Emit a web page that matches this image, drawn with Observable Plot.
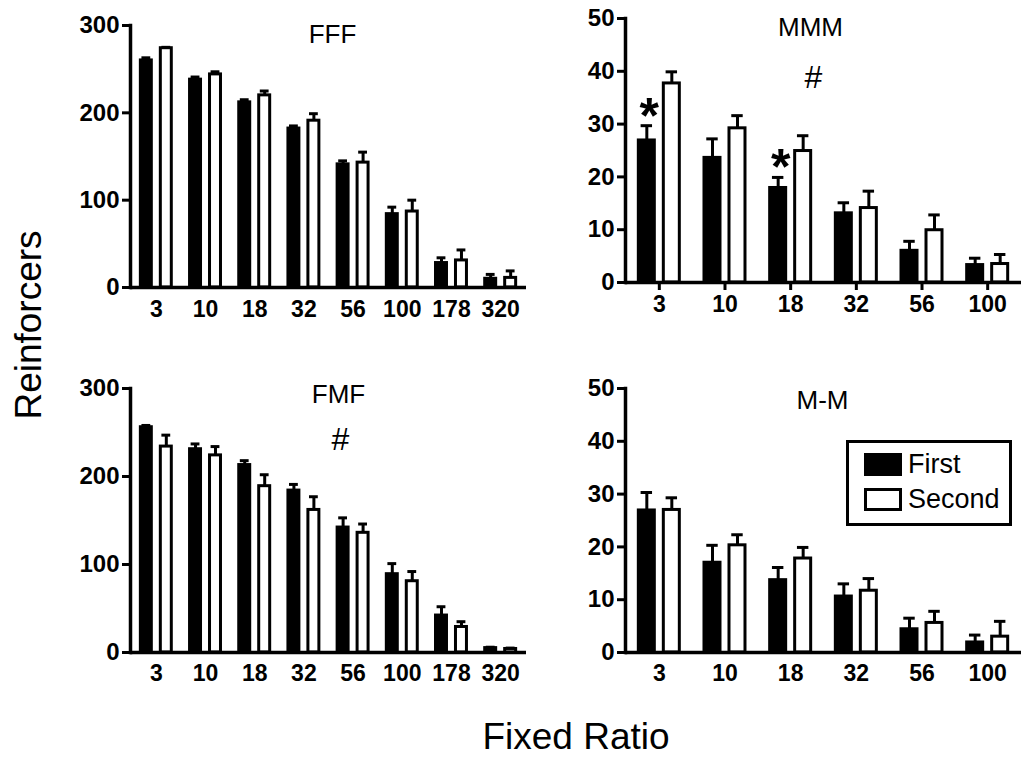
<!DOCTYPE html>
<html>
<head>
<meta charset="utf-8">
<script src="https://cdn.jsdelivr.net/npm/d3@7"></script>
<script src="https://cdn.jsdelivr.net/npm/@observablehq/plot@0.6"></script>
<style>
  html, body { margin: 0; padding: 0; background: #fff; }
  #root { position: relative; width: 1023px; height: 760px; font-family: "Liberation Sans", Arial, sans-serif; color: #000; overflow: hidden; }
  .panel { position: absolute; }
  .ylab { position: absolute; left: 29px; top: 325px; transform: translate(-50%, -50%) rotate(-90deg); font-size: 37px; white-space: nowrap; }
  .xlab { position: absolute; left: 576px; top: 718px; transform: translateX(-50%); font-size: 37px; white-space: nowrap; line-height: 37px; }
  .legend { position: absolute; left: 846px; top: 440px; width: 160px; height: 80px; border: 3px solid #000; box-sizing: content-box; }
  .legend .row { position: absolute; left: 15px; display: flex; align-items: center; font-size: 27px; line-height: 30px; }
  .legend .sw { width: 32px; height: 17px; border: 3px solid #000; margin-right: 6px; }
</style>
</head>
<body>
<div id="root">
  <div class="ylab">Reinforcers</div>
  <div class="xlab">Fixed Ratio</div>
</div>
<script>
// ---- Data ----
const ratiosLong = ["3", "10", "18", "32", "56", "100", "178", "320"];
const ratiosShort = ["3", "10", "18", "32", "56", "100"];
const series = ["First", "Second"];

// FFF
const fffFirst = [260, 238, 212, 182, 141, 84, 28, 10];
const fffFirstErr = [3, 3, 3, 3, 4, 8, 6, 5];
const fffSecond = [274, 244, 220, 191, 143, 87, 31, 11];
const fffSecondErr = [1, 3, 5, 8, 12, 13, 12, 8];

// MMM
const mmmFirst = [26.9, 23.6, 17.9, 13.1, 6.0, 3.3];
const mmmFirstErr = [2.8, 3.6, 2.0, 2.0, 1.8, 1.3];
const mmmSecond = [37.7, 29.2, 24.9, 14.1, 9.9, 3.5];
const mmmSecondErr = [2.2, 2.4, 2.9, 3.2, 2.9, 1.8];

// FMF
const fmfFirst = [256, 231, 213, 184, 142, 89, 42, 5];
const fmfFirstErr = [2, 6, 5, 7, 11, 12, 10, 1];
const fmfSecond = [234, 224, 189, 162, 136, 81, 29, 4];
const fmfSecondErr = [13, 10, 13, 15, 10, 11, 6, 1];

// M-M
const mmFirst = [26.9, 17.0, 13.7, 10.6, 4.4, 1.9];
const mmFirstErr = [3.4, 3.3, 2.4, 2.4, 2.1, 1.4];
const mmSecond = [27.0, 20.3, 17.8, 11.7, 5.6, 3.0];
const mmSecondErr = [2.3, 2.0, 2.1, 2.3, 2.2, 2.9];

const yTicksBig = [0, 100, 200, 300];
const yTicksSmall = [0, 10, 20, 30, 40, 50];

// Annotations
const mmmStars = [{fr: "3", series: "First"}, {fr: "18", series: "First"}];
const mmmHash = ["#"];
const fmfHash = ["#"];

// ---- Build ----
function rows(cats, first, firstErr, second, secondErr) {
  return cats.map((c, i) => ({
    fr: c,
    first: first[i], firstUp: first[i] + firstErr[i],
    second: second[i], secondUp: second[i] + secondErr[i]
  }));
}

function panel(cfg) {
  const {cats, data, yMax, yTicks, width, height, ml, mr, mt, mb, pi, po,
         xTicks, tickPad, title, titleDx, titleDy, extra} = cfg;
  const W = width - ml - mr;
  const n = cats.length;
  const step = W / (n - pi + 2 * po);
  const bw = step * (1 - pi);
  const half = bw / 2;
  const sw = 3;
  const gapIn = 3 + sw / 2;
  const edge = sw / 2;
  const bc = (edge + (half - gapIn)) / 2;
  const wc = ((half + gapIn) + (bw - edge)) / 2;
  const cap = bw * 0.13;
  const marks = [
    Plot.ruleX(data, {x: "fr", y1: "first", y2: "firstUp", dx: bc - half, stroke: "#000", strokeWidth: 3}),
    Plot.ruleX(data, {x: "fr", y1: "second", y2: "secondUp", dx: wc - half, stroke: "#000", strokeWidth: 3}),
    Plot.tickY(data, {x: "fr", y: "firstUp", insetLeft: bc - cap, insetRight: bw - bc - cap, stroke: "#000", strokeWidth: 3}),
    Plot.tickY(data, {x: "fr", y: "secondUp", insetLeft: wc - cap, insetRight: bw - wc - cap, stroke: "#000", strokeWidth: 3}),
    Plot.barY(data, {x: "fr", y: "first", fill: "#000", stroke: "#000", strokeWidth: sw, insetLeft: edge, insetRight: half + gapIn}),
    Plot.barY(data, {x: "fr", y: "second", fill: "#fff", stroke: "#000", strokeWidth: sw, insetLeft: half + gapIn, insetRight: edge}),
    Plot.axisY({ticks: yTicks, tickSize: 8, tickPadding: 3, strokeWidth: 3, fontSize: 24, fontWeight: "bold", label: null}),
    Plot.axisX({tickSize: xTicks ? 8 : 0, tickPadding: tickPad, strokeWidth: 3, fontSize: 23, fontWeight: "bold", label: null}),
    Plot.frame({anchor: "left", stroke: "#000", strokeWidth: 3.5}),
    Plot.ruleY([0], {stroke: "#000", strokeWidth: 3.5}),
    Plot.text([title], {frameAnchor: "top", dx: titleDx, dy: titleDy, lineAnchor: "middle", fontSize: 26, fontWeight: "normal", fill: "#000"}),
    ...(extra ? extra(data) : [])
  ];
  return Plot.plot({
    width, height,
    marginLeft: ml, marginRight: mr, marginTop: mt, marginBottom: mb,
    style: {fontFamily: "'Liberation Sans', Arial, sans-serif", color: "#000", background: "transparent", overflow: "visible"},
    x: {type: "band", domain: cats, paddingInner: pi, paddingOuter: po, align: 0.5, round: false, axis: null},
    y: {domain: [0, yMax], axis: null},
    marks
  });
}

const root = document.getElementById("root");
function place(el, left, top) {
  el.classList.add("panel");
  el.style.left = left + "px";
  el.style.top = top + "px";
  root.appendChild(el);
}

const fff = panel({
  cats: ratiosLong, data: rows(ratiosLong, fffFirst, fffFirstErr, fffSecond, fffSecondErr),
  yMax: 300, yTicks: yTicksBig, width: 540, height: 330, ml: 130, mr: 14, mt: 25, mb: 43,
  pi: 0.31, po: 0.18, xTicks: false, tickPad: 13, title: "FFF", titleDx: 4, titleDy: 9
});
place(fff, 0, 0);

const mmmData = rows(ratiosShort, mmmFirst, mmmFirstErr, mmmSecond, mmmSecondErr);
const mmm = panel({
  cats: ratiosShort, data: mmmData,
  yMax: 50, yTicks: yTicksSmall, width: 503, height: 330, ml: 105, mr: 2, mt: 18, mb: 48,
  pi: 0.33, po: 0.18, xTicks: true, tickPad: 5, title: "MMM", titleDx: -13, titleDy: 9,
  extra: (data) => [
    Plot.text(mmmStars.map(s => {
      const r = data.find(d => d.fr === s.fr);
      return {fr: s.fr, y: (s.series === "First" ? r.firstUp : r.secondUp)};
    }), {x: "fr", y: "y", text: () => "*", dx: -10, dy: -9, lineAnchor: "middle", fontSize: 50, fontWeight: "bold", fill: "#000"}),
    Plot.text(mmmHash, {frameAnchor: "top", dx: -10, dy: 59, lineAnchor: "middle", fontSize: 32, fontWeight: "normal", fill: "#000"})
  ]
});
place(mmm, 520, 0);

const fmf = panel({
  cats: ratiosLong, data: rows(ratiosLong, fmfFirst, fmfFirstErr, fmfSecond, fmfSecondErr),
  yMax: 300, yTicks: yTicksBig, width: 540, height: 330, ml: 130, mr: 14, mt: 28, mb: 38,
  pi: 0.31, po: 0.18, xTicks: false, tickPad: 12, title: "FMF", titleDx: 10, titleDy: 6,
  extra: () => [
    Plot.text(fmfHash, {frameAnchor: "top", dx: 12, dy: 51, lineAnchor: "middle", fontSize: 32, fontWeight: "normal", fill: "#000"})
  ]
});
place(fmf, 0, 360);

const mm = panel({
  cats: ratiosShort, data: rows(ratiosShort, mmFirst, mmFirstErr, mmSecond, mmSecondErr),
  yMax: 50, yTicks: yTicksSmall, width: 503, height: 330, ml: 105, mr: 2, mt: 28, mb: 38,
  pi: 0.33, po: 0.18, xTicks: false, tickPad: 12, title: "M-M", titleDx: -1, titleDy: 12
});
place(mm, 520, 360);

// Legend
const legend = document.createElement("div");
legend.className = "legend";
const fills = ["#000", "#fff"];
series.forEach((s, i) => {
  const row = document.createElement("div");
  row.className = "row";
  row.style.top = (i === 0 ? 6 : 41) + "px";
  const sw = document.createElement("span");
  sw.className = "sw";
  sw.style.background = fills[i];
  const t = document.createElement("span");
  t.textContent = s;
  row.appendChild(sw);
  row.appendChild(t);
  legend.appendChild(row);
});
root.appendChild(legend);
</script>
</body>
</html>
